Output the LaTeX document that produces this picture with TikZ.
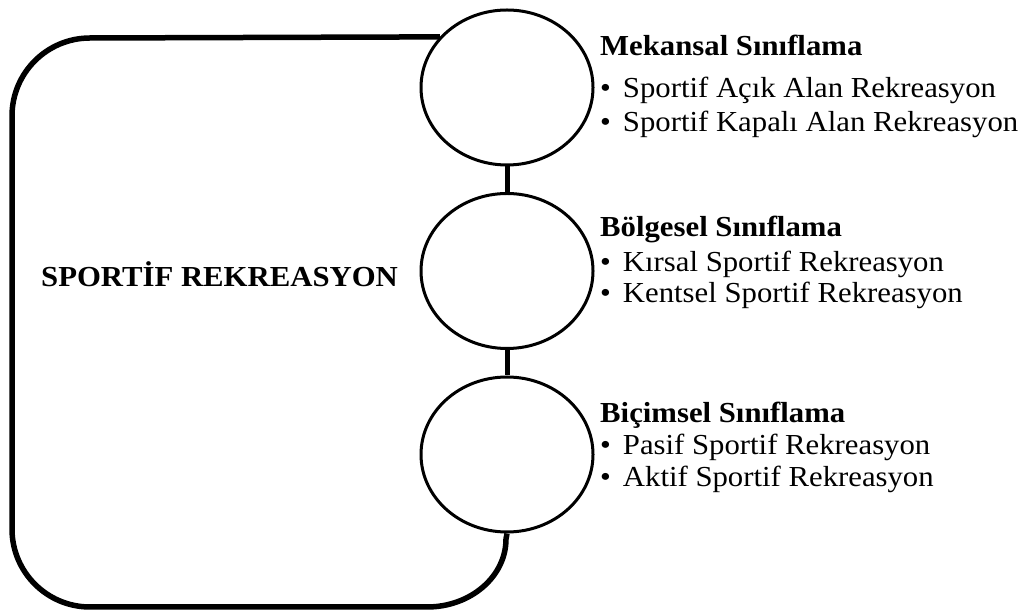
\documentclass[tikz,border=0pt]{standalone}
\usepackage{fontspec}
\setmainfont{Liberation Serif}[FakeStretch=1.06]
\usetikzlibrary{shapes.geometric}
\begin{document}
\begin{tikzpicture}[x=1pt,y=1pt,
  bubble/.style={draw=black,line width=3pt,ellipse,minimum width=172pt,minimum height=155pt,inner sep=0pt},
  link/.style={draw=black,line width=5pt},
  outline/.style={draw=black,line width=5.5pt},
  head/.style={anchor=base west,inner sep=0pt,font=\fontsize{29}{33}\selectfont\bfseries},
  item/.style={anchor=base west,inner sep=0pt,font=\fontsize{29}{33}\selectfont},
  title/.style={anchor=base west,inner sep=0pt,font=\fontsize{29}{33}\selectfont\bfseries}]
\useasboundingbox (0,0) rectangle (1027,615);
% outer frame
\node[bubble] (top) at (507,527.5) {};
\node[bubble] (mid) at (507,344) {};
\node[bubble] (bot) at (507,160.5) {};
\draw[outline] (top.143) -- (90,577) arc[start angle=90,end angle=180,radius=78]
  -- (12,86) arc[start angle=180,end angle=270,radius=78]
  -- (427,8) arc[start angle=270,end angle=360,x radius=79,y radius=68]
  -- (bot.south);
\draw[link] (top.south) -- (mid.north);
\draw[link] (mid.south) -- (bot.north);
\node[title] (main) at (41,328) {SPORTİF REKREASYON};
% texts
\node[head] (h1) at (600,559) {Mekansal Sınıflama};
\node[item] (a1) at (600,517) {•\hspace{12pt}Sportif Açık Alan Rekreasyon};
\node[item] (a2) at (600,483) {•\hspace{12pt}Sportif Kapalı Alan Rekreasyon};
\node[head] (h2) at (600,378) {Bölgesel Sınıflama};
\node[item] (b1) at (600,343) {•\hspace{12pt}Kırsal Sportif Rekreasyon};
\node[item] (b2) at (600,312) {•\hspace{12pt}Kentsel Sportif Rekreasyon};
\node[head] (h3) at (600,192) {Biçimsel Sınıflama};
\node[item] (c1) at (600,160) {•\hspace{12pt}Pasif Sportif Rekreasyon};
\node[item] (c2) at (600,128) {•\hspace{12pt}Aktif Sportif Rekreasyon};
\end{tikzpicture}
\end{document}
